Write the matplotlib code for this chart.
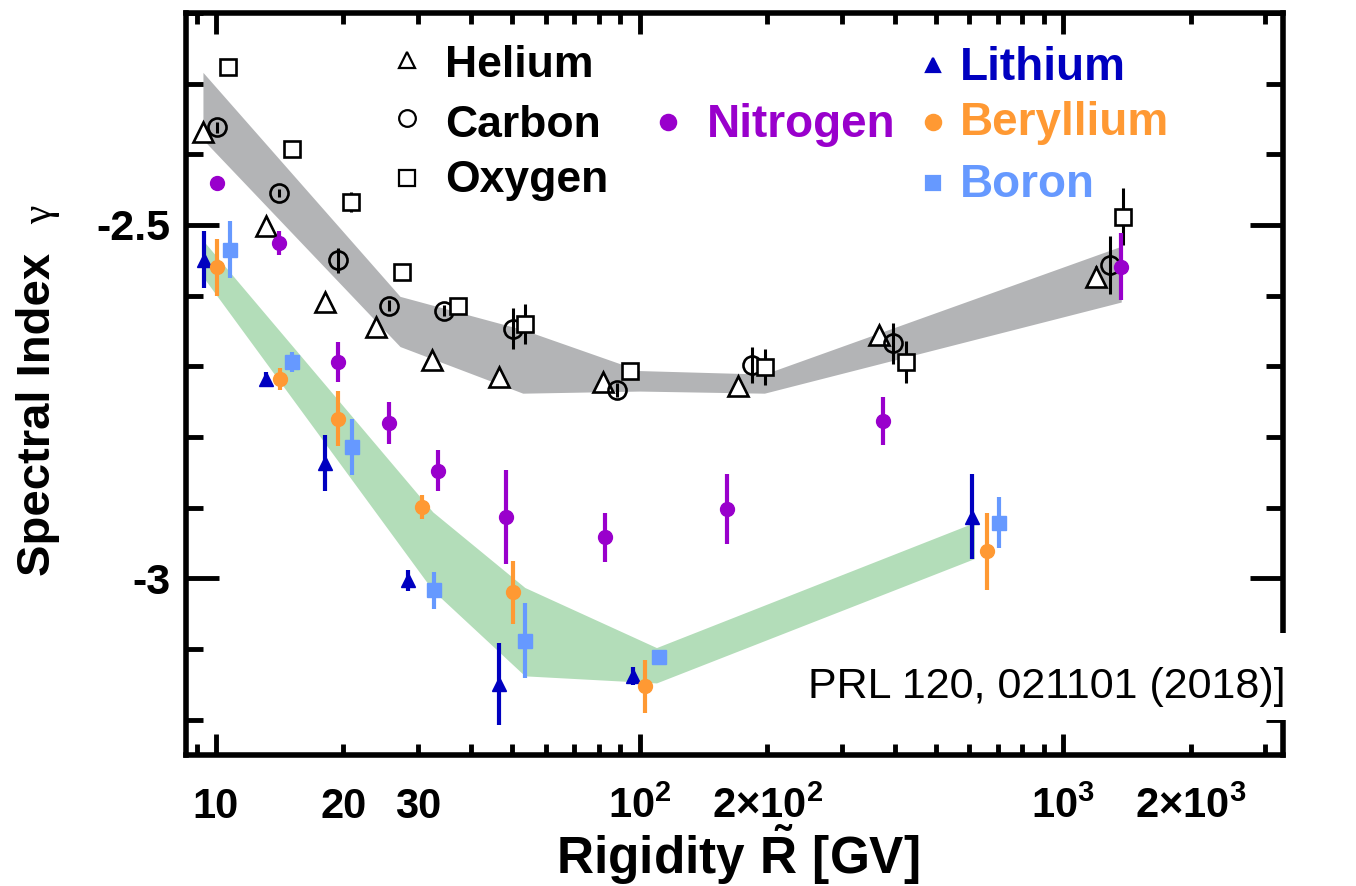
import numpy as np
import matplotlib
matplotlib.use("Agg")
import matplotlib.pyplot as plt
from matplotlib.patches import Rectangle
from matplotlib.ticker import MultipleLocator, FixedLocator

plt.rcParams['font.family'] = ['Liberation Sans', 'DejaVu Sans']
plt.rcParams['font.weight'] = 'bold'
plt.rcParams['mathtext.fontset'] = 'custom'
plt.rcParams['mathtext.rm'] = 'Liberation Sans:bold'
plt.rcParams['mathtext.bf'] = 'Liberation Sans:bold'
plt.rcParams['mathtext.it'] = 'Liberation Sans:italic:bold'

# ---- data (rigidity in GV, spectral index) ----
he_R = [9.32, 13.1, 18.1, 23.9, 32.3, 46.5, 81.8, 171, 368, 1196]
he_g = [-2.369, -2.502, -2.609, -2.644, -2.691, -2.715, -2.722, -2.728, -2.655, -2.573]
he_e = [0.010, 0.005, 0.005, 0.005, 0.005, 0.005, 0.006, 0.008, 0.012, 0.015]

c_R = [10.05, 14.1, 19.4, 25.6, 34.5, 50.2, 88.3, 184, 397, 1291]
c_g = [-2.362, -2.455, -2.550, -2.614, -2.621, -2.647, -2.733, -2.698, -2.667, -2.557]
c_e = [0.008, 0.006, 0.018, 0.008, 0.008, 0.029, 0.010, 0.026, 0.029, 0.041]

o_R = [10.7, 15.1, 20.8, 27.5, 37.2, 53.6, 94.7, 198, 426, 1385]
o_g = [-2.277, -2.393, -2.467, -2.566, -2.614, -2.640, -2.706, -2.701, -2.694, -2.488]
o_e = [0.008, 0.008, 0.014, 0.008, 0.008, 0.028, 0.010, 0.026, 0.030, 0.040]

n_R = [10.05, 14.1, 19.4, 25.6, 33.4, 48.3, 82.7, 161, 376, 1370]
n_g = [-2.441, -2.526, -2.694, -2.780, -2.848, -2.913, -2.942, -2.902, -2.777, -2.559]
n_e = [0.006, 0.017, 0.028, 0.030, 0.029, 0.067, 0.035, 0.049, 0.034, 0.047]

li_R = [9.37, 13.1, 18.1, 28.4, 46.5, 96.3, 610]
li_g = [-2.549, -2.718, -2.837, -3.003, -3.149, -3.138, -2.913]
li_e = [0.040, 0.010, 0.040, 0.015, 0.058, 0.013, 0.060]

be_R = [10.05, 14.2, 19.4, 30.6, 50.2, 103, 662]
be_g = [-2.560, -2.718, -2.774, -2.899, -3.020, -3.153, -2.962]
be_e = [0.040, 0.016, 0.039, 0.017, 0.044, 0.038, 0.055]

b_R = [10.8, 15.1, 20.9, 32.7, 53.6, 111, 706]
b_g = [-2.535, -2.694, -2.814, -3.017, -3.088, -3.112, -2.921]
b_e = [0.040, 0.014, 0.040, 0.026, 0.053, 0.011, 0.036]

# fit bands
hco_R = [9.32, 27.2, 53.0, 100, 197, 1370]
hco_hi = [-2.284, -2.601, -2.648, -2.706, -2.711, -2.530]
hco_lo = [-2.379, -2.672, -2.738, -2.735, -2.738, -2.609]

libeb_R = [9.42, 32.5, 53.6, 109.6, 617]
libeb_hi = [-2.525, -2.906, -3.013, -3.098, -2.921]
libeb_lo = [-2.577, -3.017, -3.138, -3.148, -2.972]

x_major = [10, 100, 1000]
x_major_labels = ['10', r'$\mathbf{10^2}$', r'$\mathbf{10^3}$']
x_minor = [9, 20, 30, 40, 50, 60, 70, 80, 90, 200, 300, 400, 500, 600, 700,
           800, 900, 2000, 3000]
x_minor_labels = ['', '20', '30', '', '', '', '', '', '', r'$\mathbf{2{\times}10^2}$',
                  '', '', '', '', '', '', '', r'$\mathbf{2{\times}10^3}$', '']
y_major = [-3.0, -2.5]
y_major_labels = ['-3', '-2.5']

fig = plt.figure(figsize=(13.56, 8.86), dpi=100)
ax = fig.add_axes([186/1356, 1-755/886, (1283-186)/1356, (755-13)/886])
ax.set_xscale('log')
ax.set_xlim(8.5, 3300)
ax.set_ylim(-3.25, -2.2)

ax.fill_between(hco_R, hco_lo, hco_hi, color='#b3b4b6', lw=0, zorder=1)
ax.fill_between(libeb_R, libeb_lo, libeb_hi, color='#b3ddb9', lw=0, zorder=1)

# open markers (black)
ax.errorbar(he_R, he_g, yerr=he_e, fmt='^', ms=14, mfc='white', mec='black', mew=1.9,
            ecolor='black', elinewidth=2.2, capsize=0, zorder=3)
ax.errorbar(c_R, c_g, yerr=c_e, fmt='o', ms=13, mfc='none', mec='black', mew=1.9,
            ecolor='black', elinewidth=2.2, capsize=0, zorder=3)
ax.errorbar(o_R, o_g, yerr=o_e, fmt='s', ms=12, mfc='white', mec='black', mew=1.9,
            ecolor='black', elinewidth=2.2, capsize=0, zorder=3)

# filled markers (coloured)
purple = '#9900cc'
blue = '#0000c0'
orange = '#ff9933'
lblue = '#6699ff'
ax.errorbar(n_R, n_g, yerr=n_e, fmt='o', ms=10, color=purple, elinewidth=3, capsize=0, zorder=4)
ax.errorbar(li_R, li_g, yerr=li_e, fmt='^', ms=10, color=blue, elinewidth=3, capsize=0, zorder=4)
ax.errorbar(be_R, be_g, yerr=be_e, fmt='o', ms=10, color=orange, elinewidth=3, capsize=0, zorder=4)
ax.errorbar(b_R, b_g, yerr=b_e, fmt='s', ms=9.5, color=lblue, elinewidth=3, capsize=0, zorder=4)

# legend, placed by hand like the original
def entry(mx, my, tx, ty, marker, ms, mfc, mec, text, tcolor, fs=32):
    ax.plot([mx], [my], marker=marker, ms=ms, mfc=mfc, mec=mec, mew=1.6,
            transform=ax.transAxes, clip_on=False, ls='none')
    ax.text(tx, ty, text, transform=ax.transAxes, fontsize=fs, color=tcolor,
            fontweight='bold', ha='left', va='baseline')

entry(0.2015, 0.937, 0.236, 0.914, '^', 11, 'none', 'black', 'Helium', 'black')
entry(0.2015, 0.858, 0.236, 0.833, 'o', 12, 'none', 'black', 'Carbon', 'black')
entry(0.2015, 0.778, 0.236, 0.759, 's', 11, 'none', 'black', 'Oxygen', 'black')
entry(0.4394, 0.853, 0.475, 0.833, 'o', 11, purple, purple, 'Nitrogen', purple, 33)
entry(0.681, 0.930, 0.7056, 0.910, '^', 10, blue, blue, 'Lithium', blue, 33)
entry(0.681, 0.853, 0.7056, 0.836, 'o', 11, orange, orange, 'Beryllium', orange, 33)
entry(0.681, 0.771, 0.7056, 0.752, 's', 10, lblue, lblue, 'Boron', lblue, 33)

# ticks
ax.set_xticks(x_major, labels=x_major_labels)
ax.set_xticks(x_minor, labels=x_minor_labels, minor=True)
ax.set_yticks(y_major, labels=y_major_labels)
ax.yaxis.set_minor_locator(MultipleLocator(0.1))

ax.tick_params(axis='both', which='both', direction='in', top=True, right=True,
               width=3.5, color='black')
ax.tick_params(axis='y', which='major', length=24, pad=11, labelsize=31)
ax.tick_params(axis='y', which='minor', length=12)
ax.tick_params(axis='x', which='major', length=15, pad=45, labelsize=30)
ax.tick_params(axis='x', which='minor', length=8, pad=45, labelsize=30)
for lbl in ax.get_xticklabels(which='both'):
    lbl.set_va('baseline')

for sp in ax.spines.values():
    sp.set_linewidth(4)

fig.text(0.028, 0.532, 'Spectral Index', rotation=90, fontsize=34, fontweight='bold',
         ha='center', va='center')
fig.text(0.030, 0.757, 'γ', rotation=90, fontsize=30, fontweight='normal',
         family=['Liberation Serif', 'DejaVu Serif'], ha='center', va='center')
fig.text(0.544, 0.013, r'$\mathbf{Rigidity\ \tilde{R}\ [GV]}$', fontsize=37,
         ha='center', va='baseline')

# citation box covering the lower right corner
fig.patches.append(Rectangle((800/1356, 1-720/886), 556/1356, 87/886,
                             transform=fig.transFigure, facecolor='white',
                             edgecolor='none', zorder=2))
fig.text(808/1356, 1-698/886, 'PRL 120, 021101 (2018)]', fontsize=31,
         fontweight='normal', ha='left', va='baseline', zorder=3)

fig.savefig('out.png', dpi=100)
